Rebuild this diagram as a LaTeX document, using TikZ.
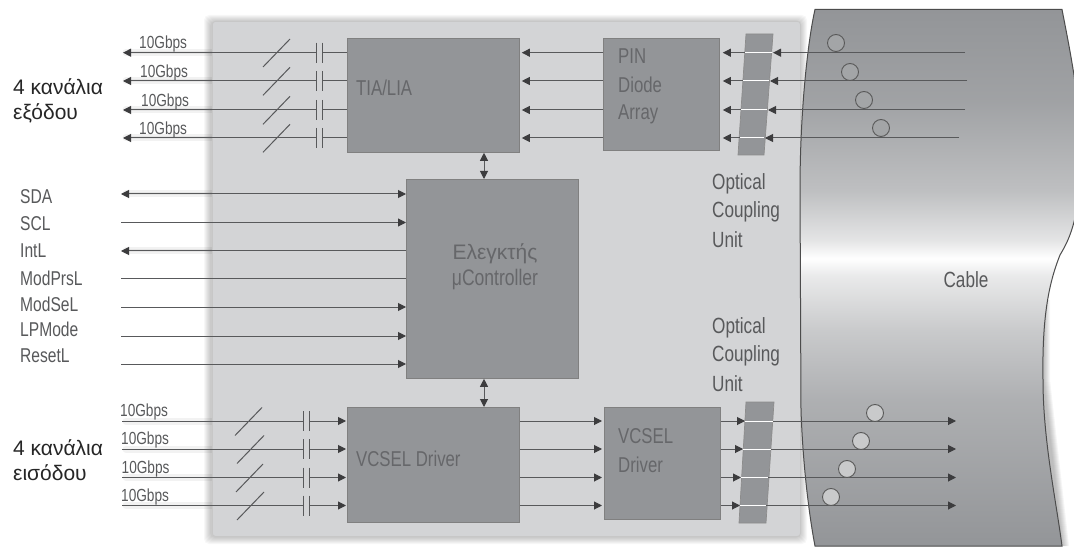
\documentclass[tikz,border=0pt]{standalone}
\usepackage{fontspec}
\setmainfont{Liberation Sans}
\newfontfamily\narrowfont[FakeStretch=0.78]{Liberation Sans}
\usetikzlibrary{arrows.meta,calc}
\definecolor{panelc}{HTML}{D3D4D6}
\definecolor{boxc}{HTML}{939598}
\definecolor{linec}{HTML}{58595B}
\definecolor{tipc}{HTML}{3C3C3E}
\definecolor{txtc}{HTML}{58595B}
\definecolor{boxtxt}{HTML}{66676A}
\pgfdeclareverticalshading{cableshade}{100bp}{
 color(0bp)=(boxc); color(25bp)=(boxc);
 color(38.6bp)=(boxc!75!white); color(45.1bp)=(boxc!50!white);
 color(50.2bp)=(boxc!20!white); color(51.8bp)=(white);
 color(53.5bp)=(boxc!25!white); color(58.1bp)=(boxc!60!white);
 color(66.5bp)=(boxc!88!white); color(75bp)=(boxc); color(100bp)=(boxc)}
\tikzset{
 x=1pt,y=-1pt,
 lab/.style={font=\narrowfont\fontsize{20}{20}\selectfont,text=txtc,anchor=west,inner sep=0pt},
 unitlab/.style={font=\narrowfont\fontsize{22}{22}\selectfont,text=txtc,anchor=west,inner sep=0pt},
 gb/.style={font=\narrowfont\fontsize{17.5}{17.5}\selectfont,text=txtc,anchor=west,inner sep=0pt},
 boxtext/.style={font=\narrowfont\fontsize{21.5}{21.5}\selectfont,text=boxtxt,anchor=west,inner sep=0pt},
 greek/.style={font=\fontsize{21}{21}\selectfont,text=black!85,anchor=west,inner sep=0pt},
 blockn/.style={draw=black!50,fill=boxc,line width=.8pt,inner sep=0pt,anchor=north west},
 wire/.style={draw=linec,line width=1pt},
 arr/.style={wire,-{Triangle[length=8pt,width=8pt,color=tipc]}},
 rarr/.style={wire,{Triangle[length=8pt,width=8pt,color=tipc]}-},
 barr/.style={wire,{Triangle[length=8pt,width=8pt,color=tipc]}-{Triangle[length=8pt,width=8pt,color=tipc]}},
 glow/.style={draw=black,line width=#1,opacity=.05,line cap=round},
 plate/.style={draw=linec,line width=1pt},
 slash/.style={draw=linec,line width=1pt},
 whiteline/.style={draw=white,line width=1pt},
 port/.style={draw=black!65,line width=.9pt,fill=#1},
 couple/.style={draw=black!45,fill=boxc,line width=.7pt},
 cableedge/.style={draw=black!70,line width=1pt},
}
\begin{document}
\begin{tikzpicture}
\useasboundingbox (0,0) rectangle (1074,548);
\fill[white] (0,0) rectangle (1074,548);
% soft shadows
\foreach \r in {7,6,5,4,3,2,1}
  \fill[black,opacity=.03,rounded corners=5pt] (211-\r,22-\r) rectangle (800+\r,537+\r);
\foreach \r in {1,2,3,4,5,6,7}
  \fill[black,opacity=.04] (1043+\r,300) -- (1043+\r,380) -- (1062+\r,546) -- (1040,546) -- (1040,300) -- cycle;
% fibre and signal glow left of panel
\foreach \y in {52.7,81,110,138,194,251}{
  \draw[glow=7pt] (126,\y) -- (212,\y);
  \draw[glow=3pt] (126,\y) -- (212,\y);
}
\foreach \y in {421,449,477,505}{
  \draw[glow=7pt] (126,\y) -- (212,\y);
}
% panel
\node[fill=panelc,draw=black!22,line width=.8pt,rounded corners=3pt,inner sep=0pt,anchor=north west,minimum width=588pt,minimum height=515pt] (panel) at (212,21) {};
% cable
\path[shading=cableshade,shading angle=0] (815,9.5) .. controls (808,40) and (800,110) .. (800,190) -- (801,410) .. controls (803,470) and (810,520) .. (815,546) -- (1062,546) .. controls (1056,500) and (1043,440) .. (1043,380) .. controls (1042,320) and (1048,285) .. (1060,255) .. controls (1072,235) and (1090,200) .. (1074,75) .. controls (1070,50) and (1066,30) .. (1062,9.5) -- cycle;
\draw[cableedge] (815,9.5) .. controls (808,40) and (800,110) .. (800,190) -- (801,410) .. controls (803,470) and (810,520) .. (815,546) -- (1062,546) .. controls (1056,500) and (1043,440) .. (1043,380) .. controls (1042,320) and (1048,285) .. (1060,255) .. controls (1072,235) and (1090,200) .. (1074,75) .. controls (1070,50) and (1066,30) .. (1062,9.5) -- cycle;
% blocks
\node[blockn,minimum width=172pt,minimum height=114pt] (tia) at (347,38) {};
\node[blockn,minimum width=116pt,minimum height=112pt] (pin) at (603,38) {};
\node[blockn,minimum width=172pt,minimum height=199pt] (mcu) at (406,179) {};
\node[blockn,minimum width=172pt,minimum height=115pt] (drv) at (347,407) {};
\node[blockn,minimum width=116pt,minimum height=112pt] (vcd) at (604,407) {};
% coupling units
\draw[couple] (746,34) -- (773,34) -- (764,155) -- (738,155) -- cycle;
\draw[couple] (746,402) -- (774,402) -- (766,523) -- (739,523) -- cycle;
% top channel wires
\foreach \i/\y/\gx/\sx/\cr/\cl/\fe/\lab in {
   1/52.7/139/0/772/745/965/a,
   2/81/140/0/769/743/967/b,
   3/110/141/0/767/741/965/c,
   4/138/139/0/764/740/959/d}{
  \coordinate (oL\i) at (123,\y);
  \coordinate (cR\i) at (316,\y);
  \coordinate (cS\i) at (322,\y);
  \coordinate (wL\i) at (\cl,\y);
  \coordinate (wR\i) at (\cr,\y);
  \coordinate (fE\i) at (\fe,\y);
  \draw[rarr] (oL\i) -- (cR\i);
  \draw[wire] (cS\i) -- (tia.west |- cS\i);
  \draw[plate] (316,\y-10) -- (316,\y+10);
  \draw[plate] (322,\y-10) -- (322,\y+10);
  \draw[slash] (263,\y+14.3) -- (290,\y-13.7);
  \draw[arr] (pin.west |- oL\i) -- ($(tia.east |- oL\i)+(2,0)$);
  \draw[arr] (wL\i) -- ($(pin.east |- oL\i)+(3,0)$);
  \draw[whiteline] (wL\i) -- (wR\i);
  \draw[arr] (fE\i) -- ($(wR\i)+(1,0)$);
  \node[gb] (g\lab) at (\gx,\y-8.5) {10Gbps};
}
% bottom channel wires
\foreach \i/\y/\gx/\sxa/\cl/\cr/\lab in {
   1/421/120/235/745/773/e,
   2/449/121/237/743/771/f,
   3/477.5/121.5/236/741/768/g,
   4/505.5/121/237/740/766/h}{
  \coordinate (iL\i) at (122,\y);
  \coordinate (dL\i) at (303,\y);
  \coordinate (dS\i) at (309,\y);
  \coordinate (bL\i) at (\cl,\y);
  \coordinate (bR\i) at (\cr,\y);
  \coordinate (eE\i) at (956,\y);
  \draw[wire] (iL\i) -- (dL\i);
  \draw[arr] (dS\i) -- ($(drv.west |- dS\i)+(-1,0)$);
  \draw[plate] (303,\y-10) -- (303,\y+10);
  \draw[plate] (309,\y-10) -- (309,\y+10);
  \draw[slash] (\sxa,\y+14.5) -- (\sxa+27,\y-13.5);
  \draw[arr] (drv.east |- dS\i) -- ($(vcd.west |- dS\i)+(-2,0)$);
  \draw[arr] (vcd.east |- dS\i) -- (bL\i);
  \draw[whiteline] (bL\i) -- (bR\i);
  \draw[arr] (bR\i) -- (eE\i);
  \node[gb] (g\lab) at (\gx,\y-9) {10Gbps};
}
% ports
\foreach \n/\x/\y in {p1/836/43,p2/850/72,p3/864/100,p4/881/128}
  \node[circle,port=boxc!85!white,minimum size=17pt,inner sep=0pt] (\n) at (\x,\y) {};
\foreach \n/\x/\y in {q1/875/413,q2/861/441,q3/847/469,q4/831/497}
  \node[circle,port=boxc!50!white,minimum size=17pt,inner sep=0pt] (\n) at (\x,\y) {};
% control signals
\foreach \n/\y in {1/194,2/222.5,3/251,4/279,5/307,6/336,7/364}
  \coordinate (s\n) at (121,\y);
\draw[barr] (s1) -- (mcu.west |- s1);
\draw[arr] (s2) -- (mcu.west |- s2);
\draw[rarr] (s3) -- (mcu.west |- s3);
\draw[wire] (s4) -- (mcu.west |- s4);
\draw[arr] (s5) -- (mcu.west |- s5);
\draw[arr] (s6) -- (mcu.west |- s6);
\draw[arr] (s7) -- (mcu.west |- s7);
% bus arrows
\coordinate (busx) at (484,0);
\draw[barr] (busx |- tia.south) -- (busx |- mcu.north);
\draw[barr] (busx |- mcu.south) -- (busx |- drv.north);
% texts
\node[lab] (t1) at (20,197) {SDA};
\node[lab] (t2) at (20,224) {SCL};
\node[lab] (t3) at (20,251) {IntL};
\node[lab] (t4) at (20,278) {ModPrsL};
\node[lab] (t5) at (20,304) {ModSeL};
\node[lab] (t6) at (20,329) {LPMode};
\node[lab] (t7) at (20,356) {ResetL};
\node[greek] (o1) at (13,87) {4 κανάλια};
\node[greek] (o2) at (13,113) {εξόδου};
\node[greek] (i1) at (13,448) {4 κανάλια};
\node[greek] (i2) at (13,473) {εισόδου};
\node[boxtext] (x1) at (356,88) {TIA/LIA};
\node[boxtext] (x2) at (618,56) {PIN};
\node[boxtext] (x3) at (618,85) {Diode};
\node[boxtext] (x4) at (618,114) {Array};
\node[boxtext] (x5) at (356,459) {VCSEL Driver};
\node[boxtext] (x6) at (618,436) {VCSEL};
\node[boxtext] (x7) at (618,465) {Driver};
\node[font=\fontsize{21}{21}\selectfont,text=boxtxt,inner sep=0pt] (x8) at (495,254) {Ελεγκτής};
\node[font=\narrowfont\fontsize{22.5}{22.5}\selectfont,text=boxtxt,inner sep=0pt] (x9) at (495,280) {μController};
\node[unitlab] (u1) at (712,184) {Optical};
\node[unitlab] (u2) at (712,212) {Coupling};
\node[unitlab] (u3) at (712,240) {Unit};
\node[unitlab] (v1) at (712,328) {Optical};
\node[unitlab] (v2) at (712,356) {Coupling};
\node[unitlab] (v3) at (712,384) {Unit};
\node[unitlab,anchor=center] (cab) at (966,280) {Cable};
\end{tikzpicture}
\end{document}
